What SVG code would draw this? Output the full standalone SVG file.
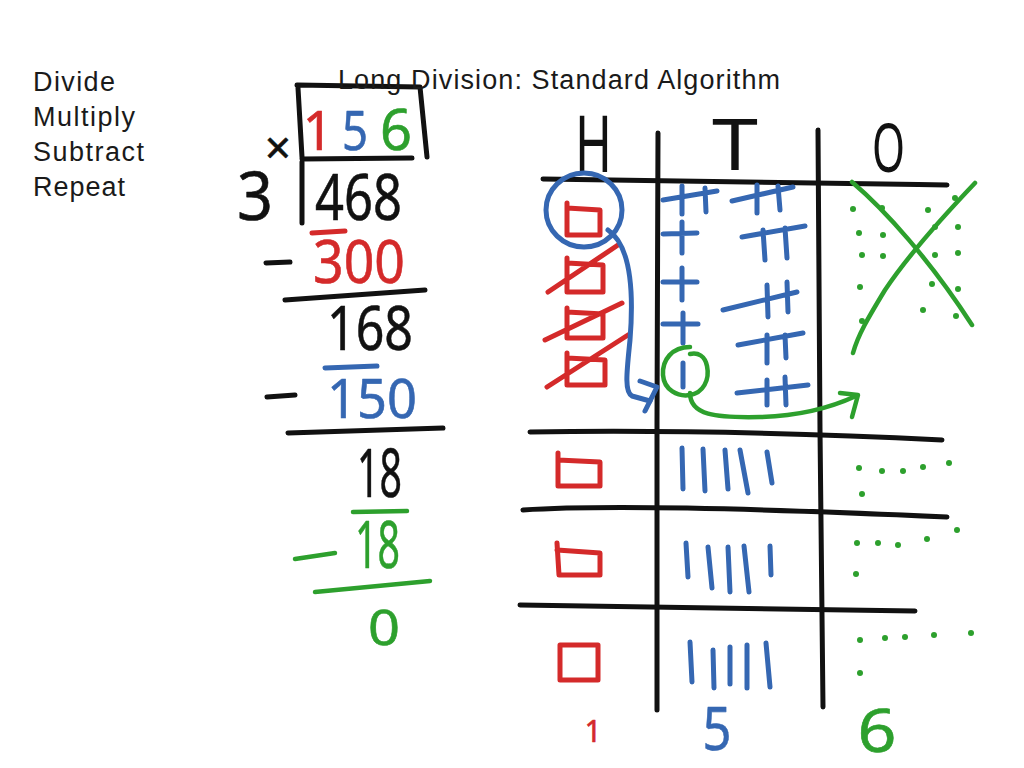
<svg xmlns="http://www.w3.org/2000/svg" width="1024" height="768" viewBox="0 0 1024 768">
<style>
.typed{font-family:"Liberation Sans",Arial,sans-serif;font-size:27px;fill:#1a1a1a}
.hw{font-family:"Noto Sans","DejaVu Sans",sans-serif;stroke-width:0.6;stroke-linejoin:round}
.big{stroke-width:0}
.k{fill:#111;stroke:#111}
.r{fill:#d42a2a;stroke:#d42a2a}
.b{fill:#3567b2;stroke:#3567b2}
.g{fill:#2da02d;stroke:#2da02d}
.sk{fill:none;stroke:#111;stroke-width:5;stroke-linecap:round;stroke-linejoin:round}
.sr{fill:none;stroke:#d42a2a;stroke-width:5;stroke-linecap:round;stroke-linejoin:round}
.sb{fill:none;stroke:#3567b2;stroke-width:5;stroke-linecap:round;stroke-linejoin:round}
.sg{fill:none;stroke:#2da02d;stroke-width:4.5;stroke-linecap:round;stroke-linejoin:round}
.dot{fill:#2da02d}
</style>
<rect width="1024" height="768" fill="#fff"/>

<g id="steps">
<text class="typed" x="33" y="91" textLength="82">Divide</text>
<text class="typed" x="33" y="126" textLength="102">Multiply</text>
<text class="typed" x="33" y="161" textLength="111">Subtract</text>
<text class="typed" x="33" y="196" textLength="92">Repeat</text>
</g>

<g id="division">
<path class="sk" d="M297,85 L420,87 L427,157 M298,88 L302,157"/>
<text class="hw r" x="318" y="150" font-size="54" text-anchor="middle">1</text>
<text class="hw b" x="355" y="150" font-size="54" text-anchor="middle" textLength="26" lengthAdjust="spacingAndGlyphs">5</text>
<text class="hw g" x="396" y="150" font-size="56" text-anchor="middle" textLength="32" lengthAdjust="spacingAndGlyphs">6</text>
<text class="hw k" x="278" y="164" font-size="46" text-anchor="middle">×</text>
<path class="sk" d="M302,159 L412,158 M302,162 L302,223"/>
<text class="hw k" x="255" y="220" font-size="68" text-anchor="middle" textLength="36" lengthAdjust="spacingAndGlyphs">3</text>
<text class="hw k" x="315" y="220" font-size="64" textLength="87" lengthAdjust="spacingAndGlyphs">468</text>
<path class="sr" d="M312,233 L345,231"/>
<path class="sk" d="M266,263 L290,262"/>
<text class="hw r" x="313" y="283" font-size="60" textLength="92" lengthAdjust="spacingAndGlyphs">300</text>
<path class="sk" d="M285,300 L425,290"/>
<text class="hw k" x="327" y="350" font-size="62" textLength="86" lengthAdjust="spacingAndGlyphs">168</text>
<path class="sb" d="M325,368 L377,366"/>
<path class="sk" d="M267,397 L295,395"/>
<text class="hw b" x="327" y="418" font-size="54" textLength="90" lengthAdjust="spacingAndGlyphs">150</text>
<path class="sk" d="M288,433 L443,428"/>
<text class="hw k" x="357" y="497" font-size="68" textLength="45" lengthAdjust="spacingAndGlyphs">18</text>
<path class="sg" d="M353,512 L407,511"/>
<path class="sg" d="M295,559 L335,553"/>
<text class="hw g" x="355" y="568" font-size="66" textLength="45" lengthAdjust="spacingAndGlyphs">18</text>
<path class="sg" d="M315,592 L430,581"/>
<text class="hw g" x="368" y="645" font-size="50" textLength="32" lengthAdjust="spacingAndGlyphs">0</text>
</g>

<g id="title">
<text class="typed" x="338" y="89" textLength="442">Long Division: Standard Algorithm</text>
</g>

<g id="grid">
<text class="hw k big" x="575" y="172" font-size="78" textLength="37" lengthAdjust="spacingAndGlyphs">H</text>
<text class="hw k big" x="712" y="170" font-size="72" textLength="46" lengthAdjust="spacingAndGlyphs">T</text>
<text class="hw k big" x="872" y="172" font-size="68" textLength="33" lengthAdjust="spacingAndGlyphs">O</text>
<path class="sk" d="M543,179 C650,180 800,183 947,185"/>
<path class="sk" d="M658,133 L657,420 L657,710"/>
<path class="sk" d="M818,130 L820,430 L823,707"/>
<path class="sk" d="M530,432 C650,430 800,433 942,440"/>
<path class="sk" d="M523,510 C600,505 750,508 947,517"/>
<path class="sk" d="M520,605 C600,605 750,609 915,611"/>
</g>

<g id="hundreds">
<ellipse class="sb" cx="584" cy="210" rx="38" ry="37"/>
<path class="sr" d="M567,203 L567,235 L600,235 L600,210 L567,208"/>
<path class="sr" d="M567,258 L567,292 L603,292 L603,265 L567,263 M548,292 L618,245"/>
<path class="sr" d="M567,308 L567,338 L603,338 L603,314 L567,312 M545,340 L622,303"/>
<path class="sr" d="M567,353 L567,385 L605,385 L605,360 L567,358 M547,387 L628,335"/>
<path class="sr" d="M558,453 L558,486 L600,486 L600,462 L558,460"/>
<path class="sr" d="M557,543 L559,575 L600,575 L600,553 L557,550"/>
<path class="sr" d="M560,645 L598,645 L598,680 L560,680 Z"/>
<text class="hw r" x="593" y="742" font-size="30" text-anchor="middle">1</text>
</g>

<g id="tens">
<path class="sb" d="M663,200 L717,191 M682,186 L682,214 M705,188 L706,212 M732,201 L793,187 M757,185 L757,213 M778,186 L780,210"/>
<path class="sb" d="M663,234 L697,233 M682,222 L682,253 M742,237 L805,226 M763,230 L765,260 M785,228 L787,258"/>
<path class="sb" d="M663,282 L697,282 M682,268 L682,300 M723,310 L797,292 M767,285 L768,317 M787,282 L788,312"/>
<path class="sb" d="M663,324 L698,324 M683,313 L683,343 M738,345 L803,333 M767,335 L767,363 M785,335 L786,358"/>
<path class="sb" d="M683,363 L683,387 M737,393 L808,385 M767,380 L767,405 M785,377 L786,405"/>
<path class="sg" d="M690,347 C672,347 662,360 663,375 C664,390 678,397 690,395 C703,393 710,380 707,366 C705,356 698,352 690,354"/>
<path class="sb" d="M682,448 L683,489 M703,449 L705,491 M725,450 L728,489 M740,450 L748,493 M767,452 L772,483"/>
<path class="sb" d="M686,543 L688,577 M708,547 L712,588 M728,547 L730,592 M744,546 L749,592 M770,546 L771,575"/>
<path class="sb" d="M690,642 L692,682 M713,650 L714,688 M730,647 L730,684 M747,645 L747,688 M766,643 L770,687"/>
<text class="hw b" x="717" y="750" font-size="60" text-anchor="middle" textLength="29" lengthAdjust="spacingAndGlyphs">5</text>
</g>

<g id="ones">
<path class="sg" d="M852,182 C885,210 930,260 972,325"/>
<path class="sg" d="M975,183 C935,225 905,260 885,290 C868,318 858,335 853,353"/>
<circle class="dot" cx="853" cy="209" r="3"/><circle class="dot" cx="882" cy="208" r="3"/>
<circle class="dot" cx="928" cy="210" r="3"/><circle class="dot" cx="955" cy="198" r="3"/>
<circle class="dot" cx="859" cy="233" r="3"/><circle class="dot" cx="883" cy="235" r="3"/>
<circle class="dot" cx="935" cy="227" r="3"/><circle class="dot" cx="958" cy="227" r="3"/>
<circle class="dot" cx="862" cy="255" r="3"/><circle class="dot" cx="883" cy="256" r="3"/>
<circle class="dot" cx="935" cy="255" r="3"/><circle class="dot" cx="958" cy="253" r="3"/>
<circle class="dot" cx="860" cy="287" r="3"/><circle class="dot" cx="932" cy="284" r="3"/>
<circle class="dot" cx="958" cy="289" r="3"/><circle class="dot" cx="862" cy="321" r="3"/>
<circle class="dot" cx="923" cy="310" r="3"/><circle class="dot" cx="956" cy="316" r="3"/>
<circle class="dot" cx="859" cy="468" r="3"/><circle class="dot" cx="882" cy="471" r="3"/>
<circle class="dot" cx="903" cy="471" r="3"/><circle class="dot" cx="923" cy="467" r="3"/>
<circle class="dot" cx="949" cy="463" r="3"/><circle class="dot" cx="862" cy="494" r="3"/>
<circle class="dot" cx="857" cy="543" r="3"/><circle class="dot" cx="878" cy="543" r="3"/>
<circle class="dot" cx="898" cy="545" r="3"/><circle class="dot" cx="927" cy="539" r="3"/>
<circle class="dot" cx="957" cy="530" r="3"/><circle class="dot" cx="856" cy="574" r="3"/>
<circle class="dot" cx="860" cy="640" r="3"/><circle class="dot" cx="885" cy="638" r="3"/>
<circle class="dot" cx="905" cy="637" r="3"/><circle class="dot" cx="934" cy="635" r="3"/>
<circle class="dot" cx="971" cy="633" r="3"/><circle class="dot" cx="860" cy="673" r="3"/>
<text class="hw g" x="877" y="752" font-size="60" text-anchor="middle" textLength="39" lengthAdjust="spacingAndGlyphs">6</text>
</g>

<g id="connectors">
<path class="sb" d="M608,230 C630,245 634,290 630,340 C627,370 624,392 632,396 L650,401"/>
<path class="sb" d="M640,381 L657,387 L645,411"/>
<path class="sg" d="M690,393 C690,415 715,418 760,417 C800,416 830,408 856,396"/>
<path class="sg" d="M840,393 L858,395 L852,417"/>
</g>
</svg>
